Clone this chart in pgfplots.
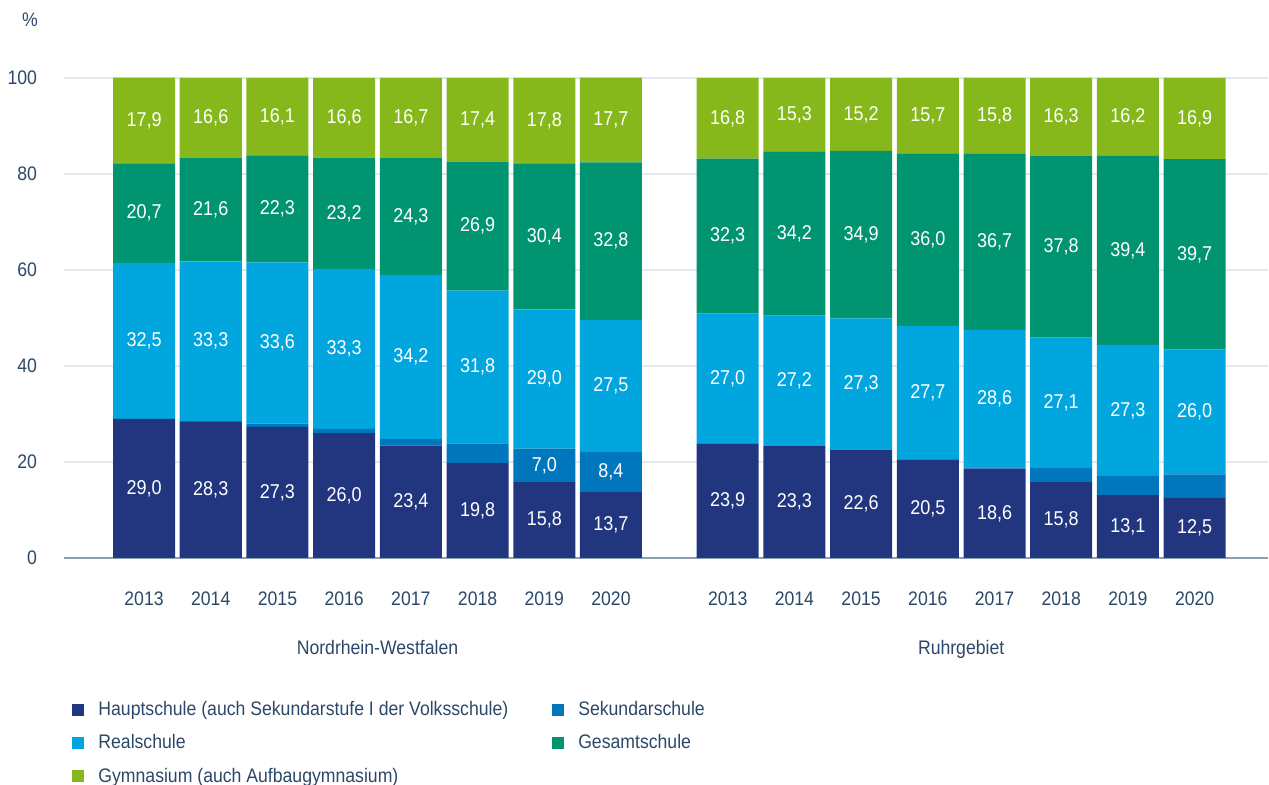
\documentclass[border=0pt]{standalone}
\usepackage{fontspec}
\setmainfont{Liberation Sans}[FakeStretch=0.9]
\usepackage{pgfplots}
\usepackage{pgfplotstable}
\pgfplotsset{compat=1.18}

\definecolor{hcol}{RGB}{34,54,128}
\definecolor{scol}{RGB}{0,119,189}
\definecolor{rcol}{RGB}{0,166,221}
\definecolor{gcol}{RGB}{0,148,113}
\definecolor{ycol}{RGB}{134,184,28}
\definecolor{textcol}{RGB}{44,72,104}
\definecolor{gridcol}{RGB}{226,232,238}
\definecolor{axiscol}{RGB}{140,160,180}

% x: NRW at 0..7, Ruhrgebiet at 8.75..15.75
\pgfplotstableread{
x     haupt sek sekl real gesamt gym
0     29.0  0.0 {}   32.5 20.7   17.9
1     28.3  0.2 {}   33.3 21.6   16.6
2     27.3  0.7 {}   33.6 22.3   16.1
3     26.0  0.9 {}   33.3 23.2   16.6
4     23.4  1.4 {}   34.2 24.3   16.7
5     19.8  4.1 {}   31.8 26.9   17.4
6     15.8  7.0 7,0  29.0 30.4   17.8
7     13.7  8.4 8,4  27.5 32.8   17.7
8.75  23.9  0.0 {}   27.0 32.3   16.8
9.75  23.3  0.0 {}   27.2 34.2   15.3
10.75 22.6  0.0 {}   27.3 34.9   15.2
11.75 20.5  0.1 {}   27.7 36.0   15.7
12.75 18.6  0.3 {}   28.6 36.7   15.8
13.75 15.8  3.0 {}   27.1 37.8   16.3
14.75 13.1  4.0 {}   27.3 39.4   16.2
15.75 12.5  4.9 {}   26.0 39.7   16.9
}\datatable

\pgfplotsset{
  numlabel/.style={
    point meta=explicit,
    nodes near coords={\pgfmathprintnumber[fixed,fixed zerofill,precision=1,use comma,assume math mode=true]{\pgfplotspointmeta}},
  },
}

\begin{document}
\begin{tikzpicture}
\useasboundingbox (-32pt,-113.5pt) rectangle (602.5pt,279pt);
\begin{axis}[
  at={(0,0)}, anchor=south west,
  width=602pt, height=240pt, scale only axis,
  ybar stacked, bar width=0.93,
  xmin=-1.2, xmax=16.85, ymin=0, ymax=100,
  clip=false,
  xtick=data,
  xticklabels={2013,2014,2015,2016,2017,2018,2019,2020,2013,2014,2015,2016,2017,2018,2019,2020},
  ytick={0,20,40,60,80,100},
  ymajorgrids,
  grid style={gridcol,line width=1pt},
  axis x line*=bottom, axis y line*=left,
  y axis line style={draw=none},
  x axis line style={draw=axiscol,line width=1.2pt},
  major tick length=0pt,
  /pgf/number format/assume math mode=true,
  tick label style={font=\fontsize{9.8}{11}\selectfont, text=textcol},
  yticklabel style={xshift=-10pt},
  xticklabel style={anchor=base, yshift=-24pt},
  nodes near coords align={center},
  every node near coord/.append style={font=\fontsize{10}{12}\selectfont, text=white, anchor=center},
  legend image code/.code={\fill[#1] (0pt,-3pt) rectangle (6pt,3pt);},
  legend columns=2,
  legend cell align=left,
  legend style={at={(0,0)}, anchor=north west, xshift=4pt, yshift=-69.5pt,
    draw=none, fill=none, inner sep=0pt, row sep=4pt,
    font=\fontsize{9.8}{11}\selectfont, text=textcol,
    /tikz/every odd column/.append style={column sep=5pt},
    /tikz/every even column/.append style={column sep=20pt}},
]
\addplot[fill=hcol, draw=none, numlabel] table[x=x, y=haupt, meta=haupt]{\datatable};
\addlegendentry{Hauptschule (auch Sekundarstufe I der Volksschule)}
\addplot[fill=scol, draw=none, point meta=explicit symbolic,
  nodes near coords={\pgfplotspointmeta}] table[x=x, y=sek, meta=sekl]{\datatable};
\addlegendentry{Sekundarschule}
\addplot[fill=rcol, draw=none, numlabel] table[x=x, y=real, meta=real]{\datatable};
\addlegendentry{Realschule}
\addplot[fill=gcol, draw=none, numlabel] table[x=x, y=gesamt, meta=gesamt]{\datatable};
\addlegendentry{Gesamtschule}
\addplot[fill=ycol, draw=none, numlabel] table[x=x, y=gym, meta=gym]{\datatable};
\addlegendentry{Gymnasium (auch Aufbaugymnasium)}

\node[anchor=base, font=\fontsize{9.8}{11}\selectfont, text=textcol, yshift=-48.5pt] at (axis cs:3.5,0) {Nordrhein-Westfalen};
\node[anchor=base, font=\fontsize{9.8}{11}\selectfont, text=textcol, yshift=-48.5pt] at (axis cs:12.25,0) {Ruhrgebiet};
\node[font=\fontsize{9.8}{11}\selectfont, text=textcol, xshift=-17pt, yshift=29pt] at (rel axis cs:0,1) {\%};
\end{axis}
\end{tikzpicture}
\end{document}
